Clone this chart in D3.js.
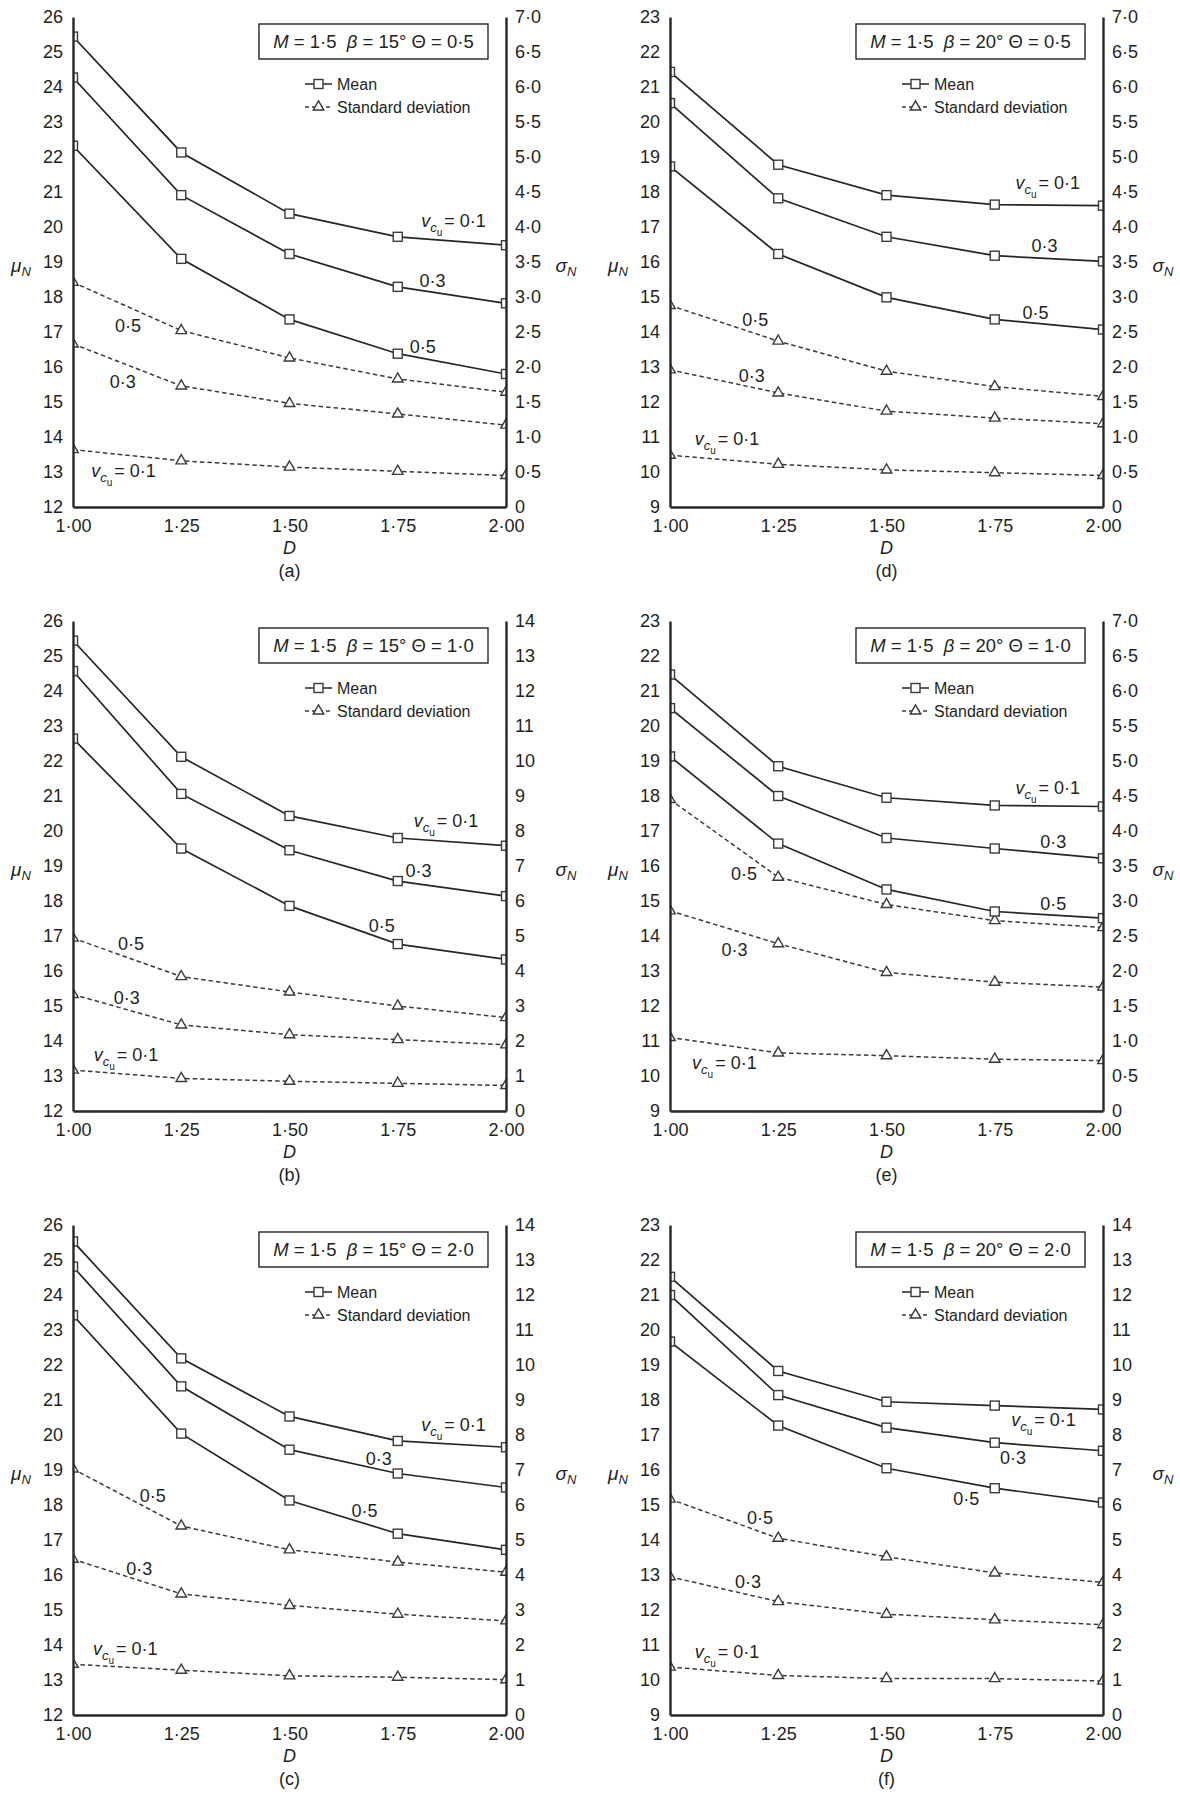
<!DOCTYPE html>
<html>
<head>
<meta charset="utf-8">
<script src="https://cdn.jsdelivr.net/npm/d3@7"></script>
<style>
  body { margin: 0; background: #fff; }
  svg text { font-family: "Liberation Sans", Arial, sans-serif; fill: #231f20; }
</style>
</head>
<body>
<div id="fig"></div>
<script>
const SVG_WIDTH = 1180;
const SVG_HEIGHT = 1794;

// x values (D) and the three v_cu levels
const dValues = [1.00, 1.25, 1.50, 1.75, 2.00];
const cuLabels = ["0·1", "0·3", "0·5"];

// tick labels
const muTicks15 = [12, 13, 14, 15, 16, 17, 18, 19, 20, 21, 22, 23, 24, 25, 26];
const muTicks20 = [9, 10, 11, 12, 13, 14, 15, 16, 17, 18, 19, 20, 21, 22, 23];
const sigmaTicksHalf = [0, 0.5, 1.0, 1.5, 2.0, 2.5, 3.0, 3.5, 4.0, 4.5, 5.0, 5.5, 6.0, 6.5, 7.0];
const sigmaTicksInt = [0, 1, 2, 3, 4, 5, 6, 7, 8, 9, 10, 11, 12, 13, 14];

// (a) beta 15, theta 0.5 -- rows are v_cu = 0.1, 0.3, 0.5
const meanA = [
    [25.44, 22.13, 20.38, 19.72, 19.48],
    [24.27, 20.91, 19.23, 18.29, 17.82],
    [22.32, 19.09, 17.36, 16.38, 15.80]];
const sdA = [
    [0.82, 0.66, 0.57, 0.51, 0.45],
    [2.33, 1.73, 1.48, 1.33, 1.17],
    [3.21, 2.52, 2.13, 1.83, 1.64]];
// (b) beta 15, theta 1.0
const meanB = [
    [25.44, 22.12, 20.43, 19.80, 19.58],
    [24.57, 21.06, 19.45, 18.57, 18.14],
    [22.64, 19.50, 17.86, 16.77, 16.33]];
const sdB = [
    [1.17, 0.93, 0.85, 0.79, 0.73],
    [3.33, 2.46, 2.18, 2.04, 1.89],
    [4.94, 3.84, 3.40, 3.00, 2.67]];
// (c) beta 15, theta 2.0
const meanC = [
    [25.53, 22.19, 20.53, 19.83, 19.65],
    [24.81, 21.39, 19.58, 18.90, 18.50],
    [23.42, 20.04, 18.13, 17.18, 16.72]];
const sdC = [
    [1.45, 1.28, 1.12, 1.08, 1.01],
    [4.45, 3.46, 3.13, 2.88, 2.69],
    [7.03, 5.40, 4.72, 4.37, 4.08]];
// (d) beta 20, theta 0.5
const meanD = [
    [21.43, 18.78, 17.91, 17.64, 17.61],
    [20.54, 17.82, 16.72, 16.18, 16.02],
    [18.73, 16.23, 14.99, 14.36, 14.07]];
const sdD = [
    [0.74, 0.61, 0.53, 0.49, 0.45],
    [1.96, 1.63, 1.37, 1.27, 1.19],
    [2.88, 2.37, 1.94, 1.72, 1.58]];
// (e) beta 20, theta 1.0
const meanE = [
    [21.47, 18.85, 17.95, 17.73, 17.70],
    [20.51, 18.00, 16.80, 16.50, 16.22],
    [19.13, 16.64, 15.33, 14.70, 14.51]];
const sdE = [
    [1.05, 0.83, 0.79, 0.74, 0.72],
    [2.86, 2.39, 1.98, 1.84, 1.77],
    [4.45, 3.34, 2.95, 2.72, 2.62]];
// (f) beta 20, theta 2.0
const meanF = [
    [21.52, 18.83, 17.95, 17.84, 17.73],
    [21.00, 18.14, 17.21, 16.78, 16.55],
    [19.67, 17.27, 16.05, 15.48, 15.07]];
const sdF = [
    [1.37, 1.13, 1.04, 1.04, 0.97],
    [3.95, 3.24, 2.88, 2.72, 2.58],
    [6.17, 5.05, 4.52, 4.06, 3.79]];

// where the curve labels sit, in data units [D, value]
const meanLabA = [[1.804, 20.17], [1.800, 18.45], [1.778, 16.56]];
const sdLabA   = [[1.042, 0.51], [1.085, 1.79], [1.097, 2.58]];
const meanLabB = [[1.787, 20.29], [1.768, 18.85], [1.683, 17.29]];
const sdLabB   = [[1.048, 1.60], [1.094, 3.24], [1.104, 4.77]];
const meanLabC = [[1.804, 20.29], [1.676, 19.32], [1.643, 17.82]];
const sdLabC   = [[1.046, 1.89], [1.123, 4.17], [1.154, 6.26]];
const meanLabD = [[1.798, 18.26], [1.835, 16.45], [1.814, 14.54]];
const sdLabD   = [[1.057, 0.97], [1.159, 1.87], [1.167, 2.67]];
const meanLabE = [[1.798, 18.24], [1.855, 16.69], [1.855, 14.92]];
const sdLabE   = [[1.051, 0.68], [1.119, 2.30], [1.141, 3.38]];
const meanLabF = [[1.788, 17.42], [1.762, 16.33], [1.654, 15.16]];
const sdLabF   = [[1.057, 1.81], [1.150, 3.79], [1.178, 5.62]];

const panels = [
    {tag: "(a)", beta: "15", theta: "0·5", col: 0, row: 0, muTicks: muTicks15, sTicks: sigmaTicksHalf, mean: meanA, sd: sdA, mLab: meanLabA, sLab: sdLabA},
    {tag: "(b)", beta: "15", theta: "1·0", col: 0, row: 1, muTicks: muTicks15, sTicks: sigmaTicksInt, mean: meanB, sd: sdB, mLab: meanLabB, sLab: sdLabB},
    {tag: "(c)", beta: "15", theta: "2·0", col: 0, row: 2, muTicks: muTicks15, sTicks: sigmaTicksInt, mean: meanC, sd: sdC, mLab: meanLabC, sLab: sdLabC},
    {tag: "(d)", beta: "20", theta: "0·5", col: 1, row: 0, muTicks: muTicks20, sTicks: sigmaTicksHalf, mean: meanD, sd: sdD, mLab: meanLabD, sLab: sdLabD},
    {tag: "(e)", beta: "20", theta: "1·0", col: 1, row: 1, muTicks: muTicks20, sTicks: sigmaTicksHalf, mean: meanE, sd: sdE, mLab: meanLabE, sLab: sdLabE},
    {tag: "(f)", beta: "20", theta: "2·0", col: 1, row: 2, muTicks: muTicks20, sTicks: sigmaTicksInt, mean: meanF, sd: sdF, mLab: meanLabF, sLab: sdLabF},
];

const COL_X = [73, 670];
const ROW_Y = [17, 621, 1225];
const PLOT_W = 433;
const PLOT_H = 490;
const INK = "#262626";

const dot = (s) => s.replace(".", "·");
const fmtD = (v) => dot(d3.format(".2f")(v));
const fmtHalf = (v) => v === 0 ? "0" : dot(d3.format(".1f")(v));

const SVG = d3.select("#fig").append("svg")
    .attr("width", SVG_WIDTH).attr("height", SVG_HEIGHT);

function vcuLabel(sel, x, y, value) {
    let t = sel.append("text").attr("x", x).attr("y", y).attr("font-size", 18);
    t.append("tspan").attr("font-style", "italic").text("v");
    t.append("tspan").attr("font-style", "italic").attr("font-size", 13).attr("dy", 5).text("c");
    t.append("tspan").attr("font-size", 10).attr("dy", 4).text("u");
    t.append("tspan").attr("dy", -9).attr("dx", 2).text("= " + value);
}

function drawPanel(p, i) {
    const left = COL_X[p.col], top = ROW_Y[p.row];
    const g = SVG.append("g").attr("transform", `translate(${left}, ${top})`);

    const x = d3.scaleLinear().domain([1, 2]).range([0, PLOT_W]);
    const yMu = d3.scaleLinear().domain(d3.extent(p.muTicks)).range([PLOT_H, 0]);
    const ySd = d3.scaleLinear().domain(d3.extent(p.sTicks)).range([PLOT_H, 0]);

    g.append("clipPath").attr("id", "clip" + i)
        .append("rect").attr("width", PLOT_W).attr("height", PLOT_H);

    const plot = g.append("g").attr("clip-path", `url(#clip${i})`);

    const lineMu = d3.line().x((d, j) => x(dValues[j])).y(d => yMu(d));
    const lineSd = d3.line().x((d, j) => x(dValues[j])).y(d => ySd(d));

    // standard deviation (dashed, right axis)
    p.sd.forEach((s) => {
        plot.append("path").attr("d", lineSd(s))
            .attr("fill", "none").attr("stroke", "#3a3a3a").attr("stroke-width", 1.5)
            .attr("stroke-dasharray", "4.5,3");
        plot.selectAll(null).data(s).join("path")
            .attr("d", d3.symbol(d3.symbolTriangle, 48)())
            .attr("transform", (d, j) => `translate(${x(dValues[j])}, ${ySd(d)})`)
            .attr("fill", "#fff").attr("stroke", "#3a3a3a").attr("stroke-width", 1.4);
    });

    // mean (solid, left axis)
    p.mean.forEach((m) => {
        plot.append("path").attr("d", lineMu(m))
            .attr("fill", "none").attr("stroke", INK).attr("stroke-width", 1.7);
        plot.selectAll(null).data(m).join("rect")
            .attr("x", (d, j) => x(dValues[j]) - 4.5).attr("y", d => yMu(d) - 4.5)
            .attr("width", 9).attr("height", 9)
            .attr("fill", "#fff").attr("stroke", "#3a3a3a").attr("stroke-width", 1.4);
    });

    // curve labels
    p.mLab.forEach((l, k) => {
        if (k == 0) vcuLabel(g, x(l[0]), yMu(l[1]) + 6, cuLabels[k]);
        else g.append("text").attr("x", x(l[0])).attr("y", yMu(l[1]) + 6)
              .attr("font-size", 18).text(cuLabels[k]);
    });
    p.sLab.forEach((l, k) => {
        if (k == 0) vcuLabel(g, x(l[0]), ySd(l[1]) + 6, cuLabels[k]);
        else g.append("text").attr("x", x(l[0])).attr("y", ySd(l[1]) + 6)
              .attr("font-size", 18).text(cuLabels[k]);
    });

    // axes
    const axL = g.append("g")
        .call(d3.axisLeft(yMu).tickValues(p.muTicks).tickSize(0).tickPadding(10).tickFormat(d3.format("d")));
    const axR = g.append("g").attr("transform", `translate(${PLOT_W}, 0)`)
        .call(d3.axisRight(ySd).tickValues(p.sTicks).tickSize(0).tickPadding(9)
            .tickFormat(p.sTicks === sigmaTicksHalf ? fmtHalf : d3.format("d")));
    const axB = g.append("g").attr("transform", `translate(0, ${PLOT_H})`)
        .call(d3.axisBottom(x).tickValues(dValues).tickSize(0).tickPadding(12).tickFormat(fmtD));
    [axL, axR, axB].forEach((a) => {
        a.attr("font-family", null).attr("font-size", null);
        a.select(".domain").attr("stroke", INK).attr("stroke-width", 2.4);
        a.selectAll("text").attr("font-size", 18).attr("fill", "#231f20");
    });

    // axis titles
    let mu = g.append("text").attr("x", -52).attr("y", PLOT_H / 2 + 10)
        .attr("text-anchor", "middle").attr("font-size", 19);
    mu.append("tspan").attr("font-style", "italic").text("μ");
    mu.append("tspan").attr("font-style", "italic").attr("font-size", 13).attr("dy", 4).text("N");
    let sg = g.append("text").attr("x", PLOT_W + 60).attr("y", PLOT_H / 2 + 10)
        .attr("text-anchor", "middle").attr("font-size", 19);
    sg.append("tspan").attr("font-style", "italic").text("σ");
    sg.append("tspan").attr("font-style", "italic").attr("font-size", 13).attr("dy", 4).text("N");

    g.append("text").attr("x", PLOT_W / 2).attr("y", PLOT_H + 47)
        .attr("text-anchor", "middle").attr("font-size", 18).attr("font-style", "italic").text("D");
    g.append("text").attr("x", PLOT_W / 2).attr("y", PLOT_H + 70)
        .attr("text-anchor", "middle").attr("font-size", 18).text(p.tag);

    // parameter box
    const bx = 186, bw = PLOT_W - 18 - 186, by = 7, bh = 35;
    g.append("rect").attr("x", bx).attr("y", by).attr("width", bw).attr("height", bh)
        .attr("fill", "#fff").attr("stroke", INK).attr("stroke-width", 1.4);
    let bt = g.append("text").attr("x", bx + bw / 2).attr("y", by + bh / 2 + 6.5)
        .attr("text-anchor", "middle").attr("font-size", 18.5)
        .attr("xml:space", "preserve").style("white-space", "pre");
    bt.append("tspan").attr("font-style", "italic").text("M");
    bt.append("tspan").text(" = 1·5  ");
    bt.append("tspan").attr("font-style", "italic").text("β");
    bt.append("tspan").text(` = ${p.beta}° Θ = ${p.theta}`);

    // legend
    const lx = bx + 46, lw = 27;
    const ly1 = 67, ly2 = 90;
    g.append("line").attr("x1", lx).attr("x2", lx + lw).attr("y1", ly1).attr("y2", ly1)
        .attr("stroke", INK).attr("stroke-width", 1.5);
    g.append("rect").attr("x", lx + lw / 2 - 4.5).attr("y", ly1 - 4.5).attr("width", 9).attr("height", 9)
        .attr("fill", "#fff").attr("stroke", "#3a3a3a").attr("stroke-width", 1.4);
    g.append("text").attr("x", bx + 78).attr("y", ly1 + 6).attr("font-size", 16).text("Mean");
    g.append("line").attr("x1", lx).attr("x2", lx + lw).attr("y1", ly2).attr("y2", ly2)
        .attr("stroke", "#3a3a3a").attr("stroke-width", 1.4).attr("stroke-dasharray", "4,3");
    g.append("path").attr("d", d3.symbol(d3.symbolTriangle, 48)())
        .attr("transform", `translate(${lx + lw / 2}, ${ly2})`)
        .attr("fill", "#fff").attr("stroke", "#3a3a3a").attr("stroke-width", 1.4);
    g.append("text").attr("x", bx + 78).attr("y", ly2 + 6).attr("font-size", 16).text("Standard deviation");
}

panels.forEach(drawPanel);
</script>
</body>
</html>
